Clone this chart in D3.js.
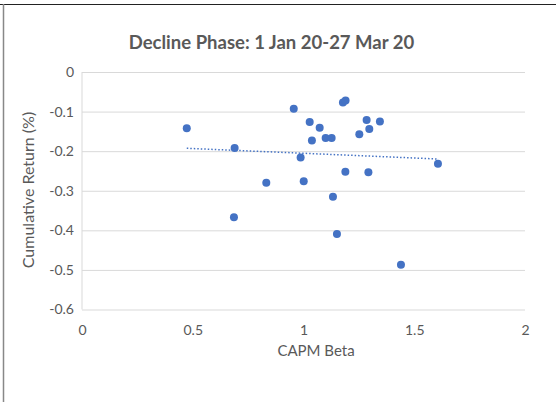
<!DOCTYPE html>
<html><head><meta charset="utf-8">
<script src="https://cdn.jsdelivr.net/npm/d3@7"></script>
<style>
html,body{margin:0;padding:0;background:#fff;}
svg{display:block;font-family:"Lato","Open Sans",sans-serif;}
</style></head>
<body>
<svg id="c" width="556" height="402"></svg>
<script>
const betas   = [0.473,0.689,0.956,1.028,1.073,1.038,1.100,1.127,1.178,1.190,1.252,1.285,1.297,1.345,1.607,0.987,1.189,1.293,0.832,1.001,1.133,0.686,1.151,1.440];
const returns = [-0.142,-0.192,-0.093,-0.126,-0.141,-0.173,-0.167,-0.167,-0.077,-0.072,-0.157,-0.121,-0.144,-0.125,-0.232,-0.216,-0.252,-0.253,-0.280,-0.276,-0.315,-0.367,-0.409,-0.487];
const xTicks = [0,0.5,1,1.5,2];
const yTicks = [0,-0.1,-0.2,-0.3,-0.4,-0.5,-0.6];
const yTickLabels = ["0","-0.1","-0.2","-0.3","-0.4","-0.5","-0.6"];
const title = "Decline Phase: 1 Jan 20-27 Mar 20";
const xTitle = "CAPM Beta";
const yTitle = "Cumulative Return (%)";

const svg = d3.select("#c");
const x = d3.scaleLinear().domain([0,2]).range([82,525]);
const y = d3.scaleLinear().domain([-0.6,0]).range([309.5,72]);
const grey = "#595959";

// frame
svg.append("line").attr("x1",0).attr("x2",556).attr("y1",4.5).attr("y2",4.5).attr("stroke","#222").attr("stroke-width",1);
svg.append("line").attr("x1",3.5).attr("x2",3.5).attr("y1",4).attr("y2",402).attr("stroke","#888").attr("stroke-width",1.5);

// gridlines
const ya = d3.axisLeft(y).tickValues(yTicks).tickSize(-(525-82)).tickFormat((d,i)=>yTickLabels[i]).tickPadding(8);
const gy = svg.append("g").attr("transform","translate(82,0)").call(ya);
gy.select(".domain").remove();
gy.selectAll(".tick line").attr("stroke","#d9d9d9").attr("stroke-width",1);
gy.selectAll(".tick text").attr("fill",grey).attr("font-size",14).style("font-family","Lato, sans-serif");

// left axis line
svg.append("line").attr("x1",x(0)).attr("x2",x(0)).attr("y1",y(0)).attr("y2",y(-0.6)).attr("stroke","#d9d9d9").attr("stroke-width",1);

const xa = d3.axisBottom(x).tickValues(xTicks).tickSize(0).tickFormat(d=>String(d)).tickPadding(16);
const gx = svg.append("g").attr("transform",`translate(0,${y(-0.6)})`).call(xa);
gx.select(".domain").remove();
gx.selectAll(".tick text").attr("fill",grey).attr("font-size",14).style("font-family","Lato, sans-serif");

// trendline (least squares)
const n = betas.length;
const mx = d3.mean(betas), my = d3.mean(returns);
let sxy=0,sxx=0;
for(let i=0;i<n;i++){sxy+=(betas[i]-mx)*(returns[i]-my);sxx+=(betas[i]-mx)**2;}
const slope = sxy/sxx, icpt = my - slope*mx;
const [x0,x1] = d3.extent(betas);
svg.append("line").attr("x1",x(x0)).attr("x2",x(x1)).attr("y1",y(icpt+slope*x0)).attr("y2",y(icpt+slope*x1))
  .attr("stroke","#4472C4").attr("stroke-width",1.5).attr("stroke-dasharray","1.5,2");

// points
svg.append("g").selectAll("circle").data(betas.map((b,i)=>[b,returns[i]])).join("circle")
  .attr("cx",d=>x(d[0])).attr("cy",d=>y(d[1])).attr("r",4).attr("fill","#4472C4");

// titles
svg.append("text").attr("x",271.5).attr("y",49).attr("text-anchor","middle").attr("fill",grey)
  .attr("font-size",18.5).attr("font-weight","bold").text(title);
svg.append("text").attr("x",316).attr("y",356).attr("text-anchor","middle").attr("fill",grey)
  .attr("font-size",15).text(xTitle);
svg.append("text").attr("transform","translate(34,190) rotate(-90)").attr("text-anchor","middle").attr("fill",grey)
  .attr("font-size",16).text(yTitle);
</script>
</body></html>
